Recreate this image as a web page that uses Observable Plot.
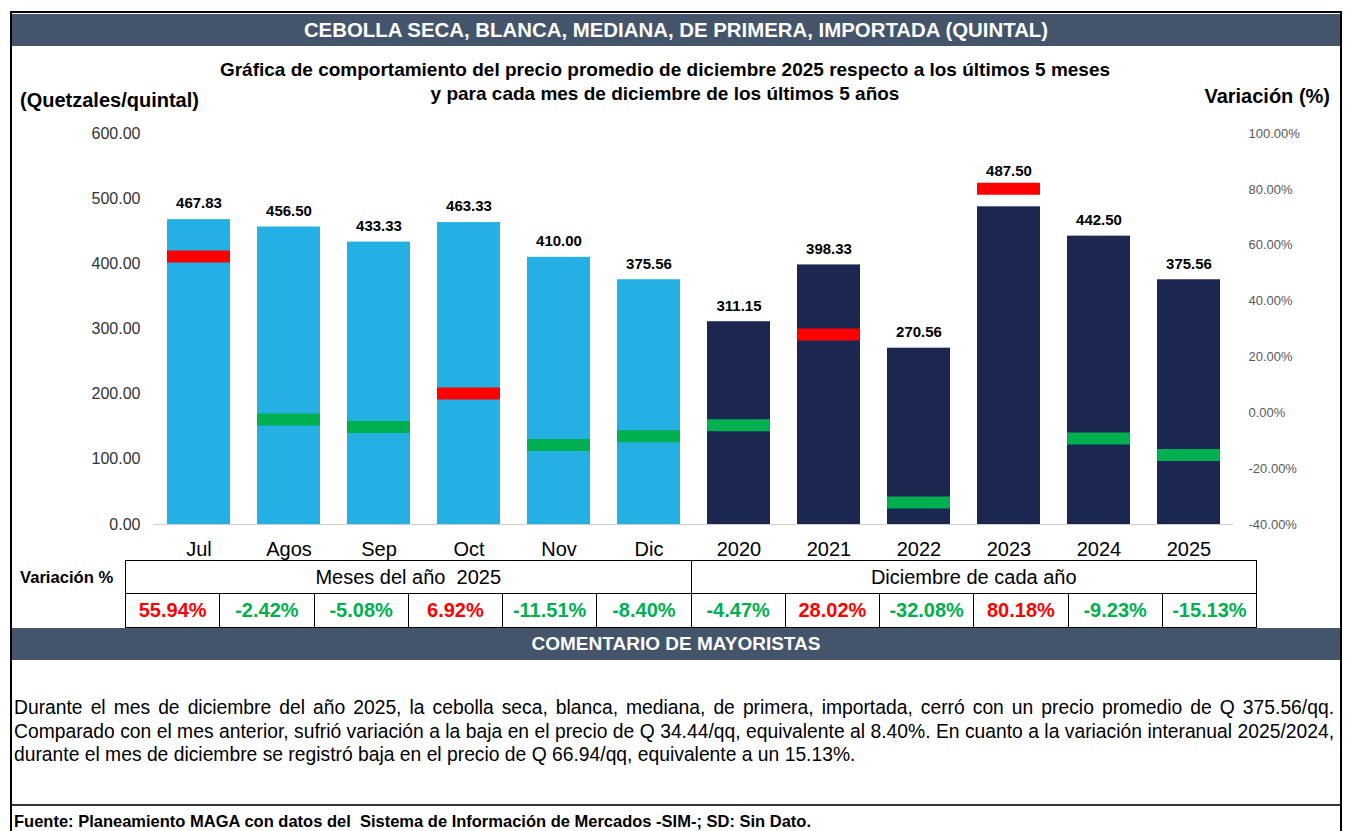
<!DOCTYPE html>
<html><head><meta charset="utf-8">
<script src="https://cdn.jsdelivr.net/npm/d3@7"></script>
<script src="https://cdn.jsdelivr.net/npm/@observablehq/plot@0.6"></script>
<style>
html,body{margin:0;padding:0;background:#fff;}
body{width:1353px;height:831px;position:relative;overflow:hidden;font-family:"Liberation Sans",Arial,sans-serif;color:#000;}
.abs{position:absolute;}
.band{background:#44546A;color:#fff;font-weight:bold;display:flex;align-items:center;justify-content:center;}
.cell{position:absolute;box-sizing:border-box;display:flex;align-items:center;justify-content:center;}
.pline{position:absolute;left:14px;width:1320px;font-size:19.3px;line-height:23.5px;white-space:nowrap;}
.just{text-align:justify;text-align-last:justify;white-space:normal;}
</style></head>
<body>
<div class="abs" style="left:10px;top:11px;width:1328px;height:830px;border:2px solid #000;border-bottom:none;"></div>
<div class="abs band" id="title" style="left:12px;top:14px;width:1328px;height:32px;font-size:20.4px;"></div>
<div class="abs" id="subtitle" style="left:160px;top:58px;width:1010px;text-align:center;font-weight:bold;font-size:19px;line-height:24px;"></div>
<div class="abs" id="ylabel" style="left:20px;top:89px;font-weight:bold;font-size:20px;"></div>
<div class="abs" id="y2label" style="right:23px;top:85px;font-weight:bold;font-size:20px;"></div>
<div class="abs" id="chart" style="left:0;top:120px;"></div>
<div class="abs" id="varlabel" style="left:20px;top:568px;font-weight:bold;font-size:16.6px;"></div>
<div class="abs" id="table" style="left:0;top:0;"></div>
<div class="abs band" id="comhead" style="left:12px;top:628px;width:1328px;height:32px;font-size:19px;"></div>
<div class="abs" id="comment" style="left:0;top:0;"></div>
<div class="abs" style="left:12px;top:804px;width:1328px;height:2px;background:#333;"></div>
<div class="abs" id="source" style="left:14px;top:812px;font-weight:bold;font-size:16.5px;white-space:pre;"></div>
<script>
// ---- data ----
const titleText = "CEBOLLA SECA, BLANCA, MEDIANA, DE PRIMERA, IMPORTADA (QUINTAL)";
const subtitleLines = ["Gráfica de comportamiento del precio promedio de diciembre 2025 respecto a los últimos 5 meses", "y para cada mes de diciembre de los últimos 5 años"];
const yLabel = "(Quetzales/quintal)";
const y2Label = "Variación (%)";
const categories = ["Jul","Agos","Sep","Oct","Nov","Dic","2020","2021","2022","2023","2024","2025"];
const prices = [467.83,456.50,433.33,463.33,410.00,375.56,311.15,398.33,270.56,487.50,442.50,375.56];
const variations = [55.94,-2.42,-5.08,6.92,-11.51,-8.40,-4.47,28.02,-32.08,80.18,-9.23,-15.13];
const groupNames = ["Meses del año  2025","Diciembre de cada año"];
const groupOf = [0,0,0,0,0,0,1,1,1,1,1,1];
const leftTicks = [0,100,200,300,400,500,600];
const rightTicks = [-40,-20,0,20,40,60,80,100];
const rightDomain = [-40,100];
const varLabel = "Variación %";
const commentHead = "COMENTARIO DE MAYORISTAS";
const commentLines = [
  "Durante el mes de diciembre del año 2025, la cebolla seca, blanca, mediana, de primera, importada, cerró con un precio promedio de Q 375.56/qq.",
  "Comparado con el mes anterior, sufrió variación a la baja en el precio de Q 34.44/qq, equivalente al 8.40%. En cuanto a la variación interanual 2025/2024,",
  "durante el mes de diciembre se registró baja en el precio de Q 66.94/qq, equivalente a un 15.13%."
];
const sourceText = "Fuente: Planeamiento MAGA con datos del  Sistema de Información de Mercados -SIM-; SD: Sin Dato.";

// ---- styles ----
const groupColors = ["#25B0E3","#1B2651"];
const upColor = "#FF0000", downColor = "#00B050";

document.getElementById("title").textContent = titleText;
document.getElementById("subtitle").innerHTML = subtitleLines.join("<br>");
document.getElementById("ylabel").textContent = yLabel;
document.getElementById("y2label").textContent = y2Label;
document.getElementById("varlabel").textContent = varLabel;
document.getElementById("comhead").textContent = commentHead;
document.getElementById("source").textContent = sourceText;
const com = document.getElementById("comment");
commentLines.forEach((t,i)=>{
  const d = document.createElement("div");
  d.className = "pline" + (i < commentLines.length-1 ? " just" : "");
  d.style.top = (696 + i*23.5) + "px";
  d.textContent = t;
  com.appendChild(d);
});

const yDomain = [0,600];
const toPrice = p => (p - rightDomain[0]) * (yDomain[1]-yDomain[0]) / (rightDomain[1]-rightDomain[0]);
const fromPrice = v => v * (rightDomain[1]-rightDomain[0]) / (yDomain[1]-yDomain[0]) + rightDomain[0];

const data = categories.map((c,i)=>({cat:c, price:prices[i], v:variations[i], g:groupOf[i]}));

const chart = Plot.plot({
  width:1353, height:450,
  marginLeft:153, marginRight:120, marginTop:13, marginBottom:46,
  x:{domain:categories, paddingInner:0.3, paddingOuter:0.15, label:null},
  y:{domain:yDomain, label:null},
  color:{type:"identity"},
  style:{background:"transparent", fontFamily:"'Liberation Sans', Arial, sans-serif", overflow:"visible"},
  marks:[
    Plot.barY(data,{x:"cat", y:"price", fill:d=>groupColors[d.g]}),
    Plot.ruleY([0],{stroke:"#d0d0d0", strokeWidth:1}),
    Plot.tickY(data,{x:"cat", y:d=>toPrice(d.v), stroke:d=>d.v>=0?upColor:downColor, strokeWidth:12}),
    Plot.text(data,{x:"cat", y:d=>Math.max(d.price, toPrice(d.v)+3), text:d=>d.price.toFixed(2), dy:-16, fontWeight:"bold", fontSize:15, fill:"#000"}),
    Plot.axisY(leftTicks,{anchor:"left", tickSize:0, tickPadding:13, tickFormat:d=>d.toFixed(2), fontSize:16, fill:"#333", label:null}),
    Plot.axisY(rightTicks.map(toPrice),{anchor:"right", tickSize:0, tickPadding:15, tickFormat:v=>fromPrice(v).toFixed(2)+"%", fontSize:13, fill:"#595959", label:null}),
    Plot.axisX({tickSize:0, tickPadding:17, fontSize:20, fill:"#000", label:null})
  ]
});
document.getElementById("chart").appendChild(chart);

// ---- table ----
const tbl = document.getElementById("table");
const tLeft = 125, tRight = 1256, r1Top = 560, r1H = 33, r2H = 34;
const cw = (tRight - tLeft) / categories.length;
groupNames.forEach((name, gi) => {
  const idx = groupOf.map((g,i)=>g===gi?i:-1).filter(i=>i>=0);
  const x0 = tLeft + idx[0]*cw, x1 = tLeft + (idx[idx.length-1]+1)*cw;
  const d = document.createElement("div");
  d.className = "cell";
  Object.assign(d.style,{left:x0+"px", top:r1Top+"px", width:(x1-x0+1)+"px", height:(r1H+1)+"px", border:"1px solid #000", fontSize:"20px", whiteSpace:"pre"});
  d.textContent = name;
  tbl.appendChild(d);
});
variations.forEach((v,i)=>{
  const d = document.createElement("div");
  d.className = "cell";
  Object.assign(d.style,{left:(tLeft+i*cw)+"px", top:(r1Top+r1H)+"px", width:(cw+1)+"px", height:(r2H+1)+"px", border:"1px solid #000", fontSize:"20px", fontWeight:"bold", color: v>=0?upColor:downColor});
  d.textContent = v.toFixed(2)+"%";
  tbl.appendChild(d);
});
</script>
</body></html>
